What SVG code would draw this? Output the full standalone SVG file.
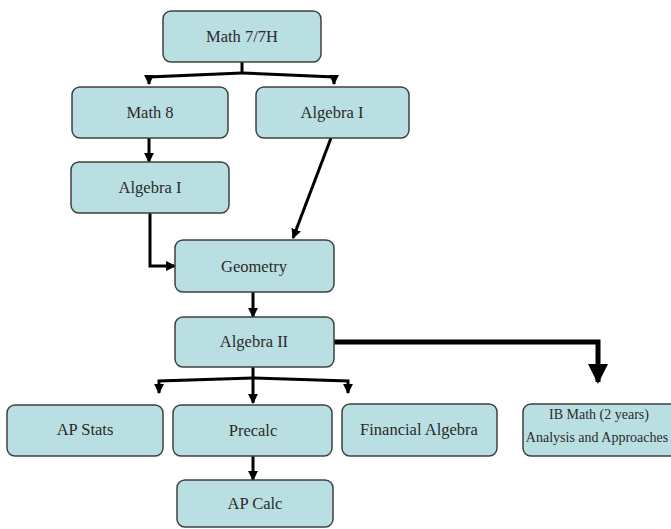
<svg xmlns="http://www.w3.org/2000/svg" width="671" height="529" viewBox="0 0 671 529">
<defs>
<marker id="ah" viewBox="0 0 10 10" refX="9" refY="5" markerWidth="3.3" markerHeight="3.3" orient="auto" markerUnits="strokeWidth"><path d="M0,0 L10,5 L0,10 z" fill="#000"/></marker>
<marker id="ahb" viewBox="0 0 10 10" refX="9" refY="5" markerWidth="4" markerHeight="4" orient="auto" markerUnits="strokeWidth"><path d="M0,0 L10,5 L0,10 z" fill="#000"/></marker>
<style>
.box{fill:#badfe2;stroke:#404040;stroke-width:1.5}
.t{font-family:"Liberation Serif","Times New Roman",serif;font-size:16.5px;fill:#2a2a2a;text-anchor:middle}
.s{font-family:"Liberation Serif","Times New Roman",serif;font-size:14px;fill:#2a2a2a;text-anchor:middle}
.c{fill:none;stroke:#000;stroke-width:3}
</style>
</defs>
<rect width="671" height="529" fill="#fff"/>
<g id="connectors">
<line class="c" x1="242" y1="62" x2="242" y2="74"/>
<polyline class="c" points="242,73 334,77 334,84" marker-end="url(#ah)"/>
<polyline class="c" points="242,73 149,77 149,84" marker-end="url(#ah)"/>
<line class="c" x1="149" y1="138" x2="149" y2="162" marker-end="url(#ah)"/>
<line class="c" x1="331" y1="138" x2="293" y2="238" marker-end="url(#ah)"/>
<polyline class="c" points="150,213 150,266 175,266" marker-end="url(#ah)"/>
<line class="c" x1="253" y1="292" x2="253" y2="317" marker-end="url(#ah)"/>
<line class="c" x1="253" y1="367" x2="253" y2="403" marker-end="url(#ah)"/>
<polyline class="c" points="253,378 159,381 159,393" marker-end="url(#ah)"/>
<polyline class="c" points="253,378 348,381 348,393" marker-end="url(#ah)"/>
<polyline fill="none" stroke="#000" stroke-width="5" points="334,342 598,342 598,382" marker-end="url(#ahb)"/>
<line class="c" x1="253" y1="456" x2="253" y2="480" marker-end="url(#ah)"/>
</g>
<g id="math77h"><rect class="box" x="163" y="11" width="158" height="51" rx="8"/><text class="t" x="242" y="42">Math 7/7H</text></g>
<g id="math8"><rect class="box" x="72" y="87" width="156" height="51" rx="8"/><text class="t" x="150" y="118">Math 8</text></g>
<g id="algebra1r"><rect class="box" x="256" y="87" width="153" height="51" rx="8"/><text class="t" x="332" y="118">Algebra I</text></g>
<g id="algebra1l"><rect class="box" x="71" y="162" width="158" height="51" rx="8"/><text class="t" x="150" y="193">Algebra I</text></g>
<g id="geometry"><rect class="box" x="175" y="240" width="159" height="52" rx="8"/><text class="t" x="254" y="272">Geometry</text></g>
<g id="algebra2"><rect class="box" x="175" y="317" width="159" height="50" rx="8"/><text class="t" x="254" y="347">Algebra II</text></g>
<g id="apstats"><rect class="box" x="7" y="405" width="156" height="51" rx="8"/><text class="t" x="85" y="435">AP Stats</text></g>
<g id="precalc"><rect class="box" x="173" y="405" width="159" height="51" rx="8"/><text class="t" x="253" y="436">Precalc</text></g>
<g id="financial"><rect class="box" x="342" y="404" width="155" height="52" rx="8"/><text class="t" x="419" y="435">Financial Algebra</text></g>
<g id="ibmath"><rect class="box" x="523" y="404" width="160" height="52" rx="8"/><text class="s" x="599" y="419">IB Math (2 years)</text><text class="s" x="597" y="442">Analysis and Approaches</text></g>
<g id="apcalc"><rect class="box" x="177" y="480" width="156" height="47" rx="8"/><text class="t" x="255" y="509">AP Calc</text></g>
</svg>
